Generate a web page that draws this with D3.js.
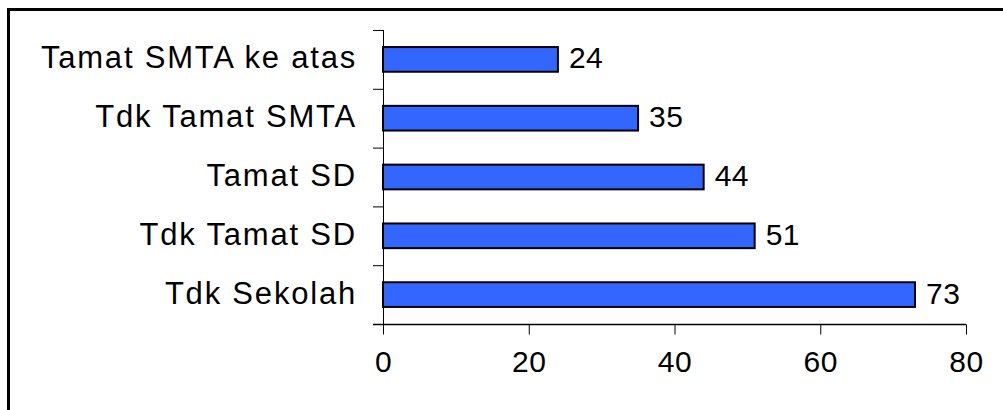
<!DOCTYPE html>
<html>
<head>
<meta charset="utf-8">
<script src="https://cdn.jsdelivr.net/npm/d3@7/dist/d3.min.js"></script>
<style>
  html, body { margin: 0; padding: 0; background: #fff; }
  svg { display: block; }
  text { font-family: "Liberation Sans", Arial, sans-serif; fill: #000; }
</style>
</head>
<body>
<script>
// Education level categories (top to bottom) and their counts
const categories = ["Tamat SMTA ke atas", "Tdk Tamat SMTA", "Tamat SD", "Tdk Tamat SD", "Tdk Sekolah"];
const values = [24, 35, 44, 51, 73];
const xTicks = [0, 20, 40, 60, 80];

const W = 1003, H = 410;
const plot = { left: 383, right: 966, top: 30, bottom: 324 };

const svg = d3.select("body").append("svg")
  .attr("width", W).attr("height", H);

// outer frame (open on the right and bottom)
svg.append("path")
  .attr("d", `M8.5,${H} V9.5 H${W}`)
  .attr("fill", "none")
  .attr("stroke", "#000")
  .attr("stroke-width", 3);

const x = d3.scaleLinear().domain([0, 80]).range([plot.left, plot.right]);
const y = d3.scaleBand().domain(categories).range([plot.top, plot.bottom])
  .paddingInner(0.58).paddingOuter(0.29);
const yTick = d3.scaleBand().domain(categories).range([plot.top, plot.bottom]);

// bars
svg.append("g").selectAll("rect")
  .data(values)
  .join("rect")
  .attr("x", x(0))
  .attr("y", (d, i) => y(categories[i]))
  .attr("width", d => x(d) - x(0))
  .attr("height", y.bandwidth())
  .attr("fill", "#3366FF")
  .attr("stroke", "#000")
  .attr("stroke-width", 2);

// value labels
svg.append("g").selectAll("text")
  .data(values)
  .join("text")
  .attr("x", d => x(d) + 11)
  .attr("y", (d, i) => y(categories[i]) + y.bandwidth() / 2 + 9)
  .attr("font-size", 30)
  .attr("letter-spacing", 0.5)
  .text(d => d);

// category axis
const yAxis = svg.append("g");
yAxis.append("line")
  .attr("x1", plot.left + 0.5).attr("x2", plot.left + 0.5)
  .attr("y1", plot.top).attr("y2", plot.bottom + 10)
  .attr("stroke", "#000").attr("stroke-width", 1);
yAxis.selectAll("line.tick")
  .data(categories.concat(["end"]))
  .join("line")
  .attr("class", "tick")
  .attr("x1", plot.left - 10).attr("x2", plot.left)
  .attr("y1", (d, i) => plot.top + i * yTick.step() + 0.5)
  .attr("y2", (d, i) => plot.top + i * yTick.step() + 0.5)
  .attr("stroke", "#000").attr("stroke-width", 1);
yAxis.selectAll("text")
  .data(categories)
  .join("text")
  .attr("x", plot.left - 26)
  .attr("y", d => y(d) + y.bandwidth() / 2 + 9)
  .attr("text-anchor", "end")
  .attr("font-size", 31)
  .attr("letter-spacing", 1.8)
  .text(d => d);

// value axis
const xAxis = svg.append("g")
  .attr("transform", `translate(0,${plot.bottom + 0.5})`)
  .call(d3.axisBottom(x).tickValues(xTicks).tickSize(10).tickPadding(16).tickSizeOuter(0));
xAxis.select(".domain").remove();
xAxis.append("line")
  .attr("x1", plot.left - 10).attr("x2", plot.right)
  .attr("stroke", "#000").attr("stroke-width", 1.5);
xAxis.selectAll(".tick line").attr("stroke", "#000");
xAxis.selectAll(".tick text")
  .attr("font-size", 30)
  .attr("letter-spacing", 0.5)
  .attr("font-family", "Liberation Sans, Arial, sans-serif")
  .attr("fill", "#000");
</script>
</body>
</html>
